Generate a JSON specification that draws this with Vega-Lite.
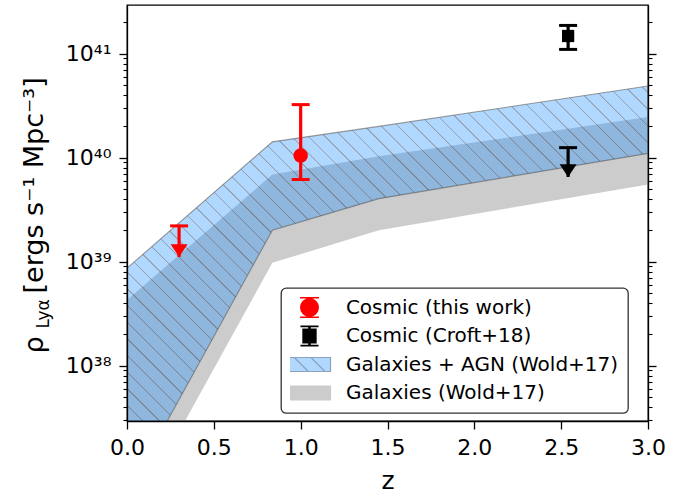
{
  "$schema": "https://vega.github.io/schema/vega-lite/v6.json",
  "width": 521,
  "height": 416,
  "autosize": {"type": "none"},
  "padding": {"left": 127, "top": 5, "right": 40, "bottom": 75},
  "background": "white",
  "datasets": {
    "bands": [
      {"z": 0, "glo": 2.88e36, "ghi": 4.28e38, "blo": 5.83e36, "bhi": 8.67e38},
      {"z": 0.837, "glo": 9.75e38, "ghi": 6.89e39, "blo": 2.01e39, "bhi": 1.42e40},
      {"z": 1.45, "glo": 2.01e39, "ghi": 1.03e40, "blo": 4.04e39, "bhi": 2.0e40},
      {"z": 3, "glo": 5.52e39, "ghi": 2.46e40, "blo": 1.10e40, "bhi": 4.89e40}
    ],
    "points": [
      {"series": "Cosmic (this work)", "z": 1.0, "rho": 1.05e40, "lo": 6.17e39, "hi": 3.24e40},
      {"series": "Cosmic (Croft+18)", "z": 2.54, "rho": 1.48e41, "lo": 1.1e41, "hi": 1.87e41}
    ],
    "limits": [
      {"series": "Cosmic (this work)", "z": 0.3, "cap": 2.21e39, "tip": 1.11e39},
      {"series": "Cosmic (Croft+18)", "z": 2.54, "cap": 1.25e40, "tip": 6.53e39}
    ],
    "legend": [
      {"series": "Cosmic (this work)"},
      {"series": "Cosmic (Croft+18)"},
      {"series": "Galaxies + AGN (Wold+17)"},
      {"series": "Galaxies (Wold+17)"}
    ]
  },
  "layer": [
    {
      "data": {"name": "bands"},
      "mark": {"type": "area", "fill": "rgba(128,128,128,0.4)", "clip": true, "strokeWidth": 0},
      "encoding": {
        "x": {"field": "z", "type": "quantitative", "scale": {"domain": [0, 3], "nice": false, "zero": false},
          "axis": {"orient": "bottom", "values": [0, 0.5, 1, 1.5, 2, 2.5, 3], "format": ".1f", "tickSize": 8, "tickWidth": 1.3, "tickColor": "black", "labelFontSize": 22, "labelPadding": 8, "labelFlush": false, "labelOverlap": false, "domain": true, "domainColor": "black", "domainWidth": 1.3, "grid": false, "zindex": 1, "title": "z", "titleFontSize": 25, "titleFontWeight": "normal", "titleX": 260.5, "titleY": 67, "titleBaseline": "alphabetic", "titleAlign": "center"}},
        "y": {"field": "glo", "type": "quantitative", "scale": {"type": "log", "domain": [2.94e37, 2.94e41], "nice": false},
          "axis": {"orient": "left", "values": [1e38, 1e39, 1e40, 1e41], "tickSize": 8, "tickWidth": 1.3, "tickColor": "black", "labelFontSize": 22, "labelPadding": 8, "labelOverlap": false, "labelFlush": false, "labelExpr": "'10' + (datum.value == 1e38 ? '³⁸' : datum.value == 1e39 ? '³⁹' : datum.value == 1e40 ? '⁴⁰' : '⁴¹')", "domain": true, "domainColor": "black", "domainWidth": 1.3, "grid": false, "zindex": 1, "title": "[ergs s⁻¹ Mpc⁻³]", "titleFontSize": 27, "titleFontWeight": "normal", "titleX": -84.5, "titleY": 288, "titleAngle": 270, "titleAlign": "left", "titleBaseline": "alphabetic"}},
        "y2": {"field": "ghi"}
      }
    },
    {
      "data": {"name": "bands"},
      "mark": {"type": "area", "clip": true, "stroke": "rgba(90,90,90,0.6)", "strokeWidth": 1.1,
        "fill": {"gradient": "linear", "x1": 0, "y1": 1, "x2": 1.1052, "y2": 0.1345, "stops": [
          {"offset": 0, "color": "rgba(30,144,255,0.35)"},
          {"offset": 0.0050, "color": "rgba(30,144,255,0.35)"}, {"offset": 0.0055, "color": "rgba(45,65,95,0.5)"}, {"offset": 0.0065, "color": "rgba(45,65,95,0.5)"}, {"offset": 0.0070, "color": "rgba(30,144,255,0.35)"},
          {"offset": 0.0229, "color": "rgba(30,144,255,0.35)"}, {"offset": 0.0234, "color": "rgba(45,65,95,0.5)"}, {"offset": 0.0244, "color": "rgba(45,65,95,0.5)"}, {"offset": 0.0249, "color": "rgba(30,144,255,0.35)"},
          {"offset": 0.0409, "color": "rgba(30,144,255,0.35)"}, {"offset": 0.0414, "color": "rgba(45,65,95,0.5)"}, {"offset": 0.0424, "color": "rgba(45,65,95,0.5)"}, {"offset": 0.0429, "color": "rgba(30,144,255,0.35)"},
          {"offset": 0.0588, "color": "rgba(30,144,255,0.35)"}, {"offset": 0.0593, "color": "rgba(45,65,95,0.5)"}, {"offset": 0.0603, "color": "rgba(45,65,95,0.5)"}, {"offset": 0.0608, "color": "rgba(30,144,255,0.35)"},
          {"offset": 0.0768, "color": "rgba(30,144,255,0.35)"}, {"offset": 0.0773, "color": "rgba(45,65,95,0.5)"}, {"offset": 0.0783, "color": "rgba(45,65,95,0.5)"}, {"offset": 0.0788, "color": "rgba(30,144,255,0.35)"},
          {"offset": 0.0947, "color": "rgba(30,144,255,0.35)"}, {"offset": 0.0952, "color": "rgba(45,65,95,0.5)"}, {"offset": 0.0962, "color": "rgba(45,65,95,0.5)"}, {"offset": 0.0967, "color": "rgba(30,144,255,0.35)"},
          {"offset": 0.1127, "color": "rgba(30,144,255,0.35)"}, {"offset": 0.1132, "color": "rgba(45,65,95,0.5)"}, {"offset": 0.1142, "color": "rgba(45,65,95,0.5)"}, {"offset": 0.1147, "color": "rgba(30,144,255,0.35)"},
          {"offset": 0.1306, "color": "rgba(30,144,255,0.35)"}, {"offset": 0.1311, "color": "rgba(45,65,95,0.5)"}, {"offset": 0.1321, "color": "rgba(45,65,95,0.5)"}, {"offset": 0.1326, "color": "rgba(30,144,255,0.35)"},
          {"offset": 0.1485, "color": "rgba(30,144,255,0.35)"}, {"offset": 0.1490, "color": "rgba(45,65,95,0.5)"}, {"offset": 0.1500, "color": "rgba(45,65,95,0.5)"}, {"offset": 0.1505, "color": "rgba(30,144,255,0.35)"},
          {"offset": 0.1665, "color": "rgba(30,144,255,0.35)"}, {"offset": 0.1670, "color": "rgba(45,65,95,0.5)"}, {"offset": 0.1680, "color": "rgba(45,65,95,0.5)"}, {"offset": 0.1685, "color": "rgba(30,144,255,0.35)"},
          {"offset": 0.1844, "color": "rgba(30,144,255,0.35)"}, {"offset": 0.1849, "color": "rgba(45,65,95,0.5)"}, {"offset": 0.1859, "color": "rgba(45,65,95,0.5)"}, {"offset": 0.1864, "color": "rgba(30,144,255,0.35)"},
          {"offset": 0.2024, "color": "rgba(30,144,255,0.35)"}, {"offset": 0.2029, "color": "rgba(45,65,95,0.5)"}, {"offset": 0.2039, "color": "rgba(45,65,95,0.5)"}, {"offset": 0.2044, "color": "rgba(30,144,255,0.35)"},
          {"offset": 0.2203, "color": "rgba(30,144,255,0.35)"}, {"offset": 0.2208, "color": "rgba(45,65,95,0.5)"}, {"offset": 0.2218, "color": "rgba(45,65,95,0.5)"}, {"offset": 0.2223, "color": "rgba(30,144,255,0.35)"},
          {"offset": 0.2383, "color": "rgba(30,144,255,0.35)"}, {"offset": 0.2388, "color": "rgba(45,65,95,0.5)"}, {"offset": 0.2398, "color": "rgba(45,65,95,0.5)"}, {"offset": 0.2403, "color": "rgba(30,144,255,0.35)"},
          {"offset": 0.2562, "color": "rgba(30,144,255,0.35)"}, {"offset": 0.2567, "color": "rgba(45,65,95,0.5)"}, {"offset": 0.2577, "color": "rgba(45,65,95,0.5)"}, {"offset": 0.2582, "color": "rgba(30,144,255,0.35)"},
          {"offset": 0.2741, "color": "rgba(30,144,255,0.35)"}, {"offset": 0.2746, "color": "rgba(45,65,95,0.5)"}, {"offset": 0.2756, "color": "rgba(45,65,95,0.5)"}, {"offset": 0.2761, "color": "rgba(30,144,255,0.35)"},
          {"offset": 0.2921, "color": "rgba(30,144,255,0.35)"}, {"offset": 0.2926, "color": "rgba(45,65,95,0.5)"}, {"offset": 0.2936, "color": "rgba(45,65,95,0.5)"}, {"offset": 0.2941, "color": "rgba(30,144,255,0.35)"},
          {"offset": 0.3100, "color": "rgba(30,144,255,0.35)"}, {"offset": 0.3105, "color": "rgba(45,65,95,0.5)"}, {"offset": 0.3115, "color": "rgba(45,65,95,0.5)"}, {"offset": 0.3120, "color": "rgba(30,144,255,0.35)"},
          {"offset": 0.3280, "color": "rgba(30,144,255,0.35)"}, {"offset": 0.3285, "color": "rgba(45,65,95,0.5)"}, {"offset": 0.3295, "color": "rgba(45,65,95,0.5)"}, {"offset": 0.3300, "color": "rgba(30,144,255,0.35)"},
          {"offset": 0.3459, "color": "rgba(30,144,255,0.35)"}, {"offset": 0.3464, "color": "rgba(45,65,95,0.5)"}, {"offset": 0.3474, "color": "rgba(45,65,95,0.5)"}, {"offset": 0.3479, "color": "rgba(30,144,255,0.35)"},
          {"offset": 0.3639, "color": "rgba(30,144,255,0.35)"}, {"offset": 0.3644, "color": "rgba(45,65,95,0.5)"}, {"offset": 0.3654, "color": "rgba(45,65,95,0.5)"}, {"offset": 0.3659, "color": "rgba(30,144,255,0.35)"},
          {"offset": 0.3818, "color": "rgba(30,144,255,0.35)"}, {"offset": 0.3823, "color": "rgba(45,65,95,0.5)"}, {"offset": 0.3833, "color": "rgba(45,65,95,0.5)"}, {"offset": 0.3838, "color": "rgba(30,144,255,0.35)"},
          {"offset": 0.3997, "color": "rgba(30,144,255,0.35)"}, {"offset": 0.4002, "color": "rgba(45,65,95,0.5)"}, {"offset": 0.4012, "color": "rgba(45,65,95,0.5)"}, {"offset": 0.4017, "color": "rgba(30,144,255,0.35)"},
          {"offset": 0.4177, "color": "rgba(30,144,255,0.35)"}, {"offset": 0.4182, "color": "rgba(45,65,95,0.5)"}, {"offset": 0.4192, "color": "rgba(45,65,95,0.5)"}, {"offset": 0.4197, "color": "rgba(30,144,255,0.35)"},
          {"offset": 0.4356, "color": "rgba(30,144,255,0.35)"}, {"offset": 0.4361, "color": "rgba(45,65,95,0.5)"}, {"offset": 0.4371, "color": "rgba(45,65,95,0.5)"}, {"offset": 0.4376, "color": "rgba(30,144,255,0.35)"},
          {"offset": 0.4536, "color": "rgba(30,144,255,0.35)"}, {"offset": 0.4541, "color": "rgba(45,65,95,0.5)"}, {"offset": 0.4551, "color": "rgba(45,65,95,0.5)"}, {"offset": 0.4556, "color": "rgba(30,144,255,0.35)"},
          {"offset": 0.4715, "color": "rgba(30,144,255,0.35)"}, {"offset": 0.4720, "color": "rgba(45,65,95,0.5)"}, {"offset": 0.4730, "color": "rgba(45,65,95,0.5)"}, {"offset": 0.4735, "color": "rgba(30,144,255,0.35)"},
          {"offset": 0.4895, "color": "rgba(30,144,255,0.35)"}, {"offset": 0.4900, "color": "rgba(45,65,95,0.5)"}, {"offset": 0.4910, "color": "rgba(45,65,95,0.5)"}, {"offset": 0.4915, "color": "rgba(30,144,255,0.35)"},
          {"offset": 0.5074, "color": "rgba(30,144,255,0.35)"}, {"offset": 0.5079, "color": "rgba(45,65,95,0.5)"}, {"offset": 0.5089, "color": "rgba(45,65,95,0.5)"}, {"offset": 0.5094, "color": "rgba(30,144,255,0.35)"},
          {"offset": 0.5253, "color": "rgba(30,144,255,0.35)"}, {"offset": 0.5258, "color": "rgba(45,65,95,0.5)"}, {"offset": 0.5268, "color": "rgba(45,65,95,0.5)"}, {"offset": 0.5273, "color": "rgba(30,144,255,0.35)"},
          {"offset": 0.5433, "color": "rgba(30,144,255,0.35)"}, {"offset": 0.5438, "color": "rgba(45,65,95,0.5)"}, {"offset": 0.5448, "color": "rgba(45,65,95,0.5)"}, {"offset": 0.5453, "color": "rgba(30,144,255,0.35)"},
          {"offset": 0.5612, "color": "rgba(30,144,255,0.35)"}, {"offset": 0.5617, "color": "rgba(45,65,95,0.5)"}, {"offset": 0.5627, "color": "rgba(45,65,95,0.5)"}, {"offset": 0.5632, "color": "rgba(30,144,255,0.35)"},
          {"offset": 0.5792, "color": "rgba(30,144,255,0.35)"}, {"offset": 0.5797, "color": "rgba(45,65,95,0.5)"}, {"offset": 0.5807, "color": "rgba(45,65,95,0.5)"}, {"offset": 0.5812, "color": "rgba(30,144,255,0.35)"},
          {"offset": 0.5971, "color": "rgba(30,144,255,0.35)"}, {"offset": 0.5976, "color": "rgba(45,65,95,0.5)"}, {"offset": 0.5986, "color": "rgba(45,65,95,0.5)"}, {"offset": 0.5991, "color": "rgba(30,144,255,0.35)"},
          {"offset": 0.6151, "color": "rgba(30,144,255,0.35)"}, {"offset": 0.6156, "color": "rgba(45,65,95,0.5)"}, {"offset": 0.6166, "color": "rgba(45,65,95,0.5)"}, {"offset": 0.6171, "color": "rgba(30,144,255,0.35)"},
          {"offset": 0.6330, "color": "rgba(30,144,255,0.35)"}, {"offset": 0.6335, "color": "rgba(45,65,95,0.5)"}, {"offset": 0.6345, "color": "rgba(45,65,95,0.5)"}, {"offset": 0.6350, "color": "rgba(30,144,255,0.35)"},
          {"offset": 0.6509, "color": "rgba(30,144,255,0.35)"}, {"offset": 0.6514, "color": "rgba(45,65,95,0.5)"}, {"offset": 0.6524, "color": "rgba(45,65,95,0.5)"}, {"offset": 0.6529, "color": "rgba(30,144,255,0.35)"},
          {"offset": 0.6689, "color": "rgba(30,144,255,0.35)"}, {"offset": 0.6694, "color": "rgba(45,65,95,0.5)"}, {"offset": 0.6704, "color": "rgba(45,65,95,0.5)"}, {"offset": 0.6709, "color": "rgba(30,144,255,0.35)"},
          {"offset": 0.6868, "color": "rgba(30,144,255,0.35)"}, {"offset": 0.6873, "color": "rgba(45,65,95,0.5)"}, {"offset": 0.6883, "color": "rgba(45,65,95,0.5)"}, {"offset": 0.6888, "color": "rgba(30,144,255,0.35)"},
          {"offset": 0.7048, "color": "rgba(30,144,255,0.35)"}, {"offset": 0.7053, "color": "rgba(45,65,95,0.5)"}, {"offset": 0.7063, "color": "rgba(45,65,95,0.5)"}, {"offset": 0.7068, "color": "rgba(30,144,255,0.35)"},
          {"offset": 0.7227, "color": "rgba(30,144,255,0.35)"}, {"offset": 0.7232, "color": "rgba(45,65,95,0.5)"}, {"offset": 0.7242, "color": "rgba(45,65,95,0.5)"}, {"offset": 0.7247, "color": "rgba(30,144,255,0.35)"},
          {"offset": 0.7407, "color": "rgba(30,144,255,0.35)"}, {"offset": 0.7412, "color": "rgba(45,65,95,0.5)"}, {"offset": 0.7422, "color": "rgba(45,65,95,0.5)"}, {"offset": 0.7427, "color": "rgba(30,144,255,0.35)"},
          {"offset": 0.7586, "color": "rgba(30,144,255,0.35)"}, {"offset": 0.7591, "color": "rgba(45,65,95,0.5)"}, {"offset": 0.7601, "color": "rgba(45,65,95,0.5)"}, {"offset": 0.7606, "color": "rgba(30,144,255,0.35)"},
          {"offset": 0.7765, "color": "rgba(30,144,255,0.35)"}, {"offset": 0.7770, "color": "rgba(45,65,95,0.5)"}, {"offset": 0.7780, "color": "rgba(45,65,95,0.5)"}, {"offset": 0.7785, "color": "rgba(30,144,255,0.35)"},
          {"offset": 0.7945, "color": "rgba(30,144,255,0.35)"}, {"offset": 0.7950, "color": "rgba(45,65,95,0.5)"}, {"offset": 0.7960, "color": "rgba(45,65,95,0.5)"}, {"offset": 0.7965, "color": "rgba(30,144,255,0.35)"},
          {"offset": 0.8124, "color": "rgba(30,144,255,0.35)"}, {"offset": 0.8129, "color": "rgba(45,65,95,0.5)"}, {"offset": 0.8139, "color": "rgba(45,65,95,0.5)"}, {"offset": 0.8144, "color": "rgba(30,144,255,0.35)"},
          {"offset": 0.8304, "color": "rgba(30,144,255,0.35)"}, {"offset": 0.8309, "color": "rgba(45,65,95,0.5)"}, {"offset": 0.8319, "color": "rgba(45,65,95,0.5)"}, {"offset": 0.8324, "color": "rgba(30,144,255,0.35)"},
          {"offset": 0.8483, "color": "rgba(30,144,255,0.35)"}, {"offset": 0.8488, "color": "rgba(45,65,95,0.5)"}, {"offset": 0.8498, "color": "rgba(45,65,95,0.5)"}, {"offset": 0.8503, "color": "rgba(30,144,255,0.35)"},
          {"offset": 0.8663, "color": "rgba(30,144,255,0.35)"}, {"offset": 0.8668, "color": "rgba(45,65,95,0.5)"}, {"offset": 0.8678, "color": "rgba(45,65,95,0.5)"}, {"offset": 0.8683, "color": "rgba(30,144,255,0.35)"},
          {"offset": 0.8842, "color": "rgba(30,144,255,0.35)"}, {"offset": 0.8847, "color": "rgba(45,65,95,0.5)"}, {"offset": 0.8857, "color": "rgba(45,65,95,0.5)"}, {"offset": 0.8862, "color": "rgba(30,144,255,0.35)"},
          {"offset": 0.9022, "color": "rgba(30,144,255,0.35)"}, {"offset": 0.9027, "color": "rgba(45,65,95,0.5)"}, {"offset": 0.9037, "color": "rgba(45,65,95,0.5)"}, {"offset": 0.9042, "color": "rgba(30,144,255,0.35)"},
          {"offset": 0.9201, "color": "rgba(30,144,255,0.35)"}, {"offset": 0.9206, "color": "rgba(45,65,95,0.5)"}, {"offset": 0.9216, "color": "rgba(45,65,95,0.5)"}, {"offset": 0.9221, "color": "rgba(30,144,255,0.35)"},
          {"offset": 0.9380, "color": "rgba(30,144,255,0.35)"}, {"offset": 0.9385, "color": "rgba(45,65,95,0.5)"}, {"offset": 0.9395, "color": "rgba(45,65,95,0.5)"}, {"offset": 0.9400, "color": "rgba(30,144,255,0.35)"},
          {"offset": 0.9560, "color": "rgba(30,144,255,0.35)"}, {"offset": 0.9565, "color": "rgba(45,65,95,0.5)"}, {"offset": 0.9575, "color": "rgba(45,65,95,0.5)"}, {"offset": 0.9580, "color": "rgba(30,144,255,0.35)"},
          {"offset": 0.9739, "color": "rgba(30,144,255,0.35)"}, {"offset": 0.9744, "color": "rgba(45,65,95,0.5)"}, {"offset": 0.9754, "color": "rgba(45,65,95,0.5)"}, {"offset": 0.9759, "color": "rgba(30,144,255,0.35)"},
          {"offset": 0.9919, "color": "rgba(30,144,255,0.35)"}, {"offset": 0.9924, "color": "rgba(45,65,95,0.5)"}, {"offset": 0.9934, "color": "rgba(45,65,95,0.5)"}, {"offset": 0.9939, "color": "rgba(30,144,255,0.35)"},
          {"offset": 1, "color": "rgba(30,144,255,0.35)"}
        ]}},
      "encoding": {
        "x": {"field": "z", "type": "quantitative", "scale": {"domain": [0, 3], "nice": false, "zero": false}},
        "y": {"field": "blo", "type": "quantitative", "scale": {"type": "log", "domain": [2.94e37, 2.94e41], "nice": false},
          "axis": {"orient": "right", "values": [1e38, 1e39, 1e40, 1e41], "tickSize": 8, "tickWidth": 1.3, "tickColor": "black", "labels": false, "domain": true, "domainColor": "black", "domainWidth": 1.3, "grid": false, "zindex": 1, "title": null}},
        "y2": {"field": "bhi"}
      }
    },
    {
      "data": {"name": "points"},
      "mark": {"type": "rule", "strokeWidth": 3.2},
      "encoding": {
        "x": {"field": "z", "type": "quantitative", "scale": {"domain": [0, 3], "nice": false, "zero": false}},
        "y": {"field": "lo", "type": "quantitative", "scale": {"type": "log", "domain": [2.94e37, 2.94e41], "nice": false},
          "axis": {"orient": "left", "values": [3e37, 4e37, 5e37, 6e37, 7e37, 8e37, 9e37, 2e38, 3e38, 4e38, 5e38, 6e38, 7e38, 8e38, 9e38, 2e39, 3e39, 4e39, 5e39, 6e39, 7e39, 8e39, 9e39, 2e40, 3e40, 4e40, 5e40, 6e40, 7e40, 8e40, 9e40, 2e41], "tickSize": 4, "tickWidth": 1.1, "tickColor": "black", "labels": false, "domain": false, "grid": false, "zindex": 1, "title": "ρ", "titleFontSize": 27, "titleFontWeight": "normal", "titleX": -84.5, "titleY": 348, "titleAngle": 270, "titleAlign": "left", "titleBaseline": "alphabetic"}},
        "y2": {"field": "hi"},
        "stroke": {"field": "series", "type": "nominal", "scale": {"domain": ["Cosmic (this work)", "Cosmic (Croft+18)", "Galaxies + AGN (Wold+17)", "Galaxies (Wold+17)"], "range": ["#ff0000", "#000000", "#8da2ba", "#cccccc"]}}
      }
    },
    {
      "data": {"name": "points"},
      "transform": [{"fold": ["lo", "hi"], "as": ["end", "val"]}],
      "mark": {"type": "tick", "orient": "horizontal", "size": 18, "thickness": 3, "opacity": 1},
      "encoding": {
        "x": {"field": "z", "type": "quantitative", "scale": {"domain": [0, 3], "nice": false, "zero": false}},
        "y": {"field": "val", "type": "quantitative", "scale": {"type": "log", "domain": [2.94e37, 2.94e41], "nice": false},
          "axis": {"orient": "left", "ticks": false, "labels": false, "domain": false, "grid": false, "title": "Lyα", "titleFontSize": 17, "titleFontWeight": "normal", "titleX": -78.5, "titleY": 323, "titleAngle": 270, "titleAlign": "left", "titleBaseline": "alphabetic"}},
        "fill": {"field": "series", "type": "nominal", "scale": {"domain": ["Cosmic (this work)", "Cosmic (Croft+18)", "Galaxies + AGN (Wold+17)", "Galaxies (Wold+17)"], "range": ["#ff0000", "#000000", "#b0d8ff", "#cccccc"]}}
      }
    },
    {
      "data": {"name": "limits"},
      "mark": {"type": "rule", "strokeWidth": 3.2},
      "encoding": {
        "x": {"field": "z", "type": "quantitative", "scale": {"domain": [0, 3], "nice": false, "zero": false}},
        "y": {"field": "tip", "type": "quantitative", "scale": {"type": "log", "domain": [2.94e37, 2.94e41], "nice": false},
          "axis": {"orient": "right", "values": [3e37, 4e37, 5e37, 6e37, 7e37, 8e37, 9e37, 2e38, 3e38, 4e38, 5e38, 6e38, 7e38, 8e38, 9e38, 2e39, 3e39, 4e39, 5e39, 6e39, 7e39, 8e39, 9e39, 2e40, 3e40, 4e40, 5e40, 6e40, 7e40, 8e40, 9e40, 2e41], "tickSize": 4, "tickWidth": 1.1, "tickColor": "black", "labels": false, "domain": false, "grid": false, "zindex": 1, "title": null}},
        "y2": {"field": "cap"},
        "stroke": {"field": "series", "type": "nominal", "scale": {"domain": ["Cosmic (this work)", "Cosmic (Croft+18)", "Galaxies + AGN (Wold+17)", "Galaxies (Wold+17)"], "range": ["#ff0000", "#000000", "#8da2ba", "#cccccc"]}}
      }
    },
    {
      "data": {"name": "limits"},
      "mark": {"type": "tick", "orient": "horizontal", "size": 18, "thickness": 3, "opacity": 1},
      "encoding": {
        "x": {"field": "z", "type": "quantitative", "scale": {"domain": [0, 3], "nice": false, "zero": false}},
        "y": {"field": "cap", "type": "quantitative", "scale": {"type": "log", "domain": [2.94e37, 2.94e41], "nice": false}, "axis": null},
        "fill": {"field": "series", "type": "nominal", "scale": {"domain": ["Cosmic (this work)", "Cosmic (Croft+18)", "Galaxies + AGN (Wold+17)", "Galaxies (Wold+17)"], "range": ["#ff0000", "#000000", "#b0d8ff", "#cccccc"]}}
      }
    },
    {
      "data": {"name": "limits"},
      "mark": {"type": "point", "shape": "M-1,-1.5L1,-1.5L0,0Z", "size": 289, "filled": true, "opacity": 1, "strokeWidth": 0},
      "encoding": {
        "x": {"field": "z", "type": "quantitative", "scale": {"domain": [0, 3], "nice": false, "zero": false}},
        "y": {"field": "tip", "type": "quantitative", "scale": {"type": "log", "domain": [2.94e37, 2.94e41], "nice": false}, "axis": null},
        "fill": {"field": "series", "type": "nominal", "scale": {"domain": ["Cosmic (this work)", "Cosmic (Croft+18)", "Galaxies + AGN (Wold+17)", "Galaxies (Wold+17)"], "range": ["#ff0000", "#000000", "#b0d8ff", "#cccccc"]}}
      }
    },
    {
      "data": {"name": "points"},
      "transform": [{"filter": "datum.series === 'Cosmic (this work)'"}],
      "mark": {"type": "point", "shape": "circle", "size": 210, "filled": true, "opacity": 1, "strokeWidth": 0},
      "encoding": {
        "x": {"field": "z", "type": "quantitative", "scale": {"domain": [0, 3], "nice": false, "zero": false}},
        "y": {"field": "rho", "type": "quantitative", "scale": {"type": "log", "domain": [2.94e37, 2.94e41], "nice": false}, "axis": null},
        "fill": {"field": "series", "type": "nominal", "scale": {"domain": ["Cosmic (this work)", "Cosmic (Croft+18)", "Galaxies + AGN (Wold+17)", "Galaxies (Wold+17)"], "range": ["#ff0000", "#000000", "#b0d8ff", "#cccccc"]}}
      }
    },
    {
      "data": {"name": "points"},
      "transform": [{"filter": "datum.series === 'Cosmic (Croft+18)'"}],
      "mark": {"type": "point", "shape": "square", "size": 150, "filled": true, "opacity": 1, "strokeWidth": 0},
      "encoding": {
        "x": {"field": "z", "type": "quantitative", "scale": {"domain": [0, 3], "nice": false, "zero": false}},
        "y": {"field": "rho", "type": "quantitative", "scale": {"type": "log", "domain": [2.94e37, 2.94e41], "nice": false}, "axis": null},
        "fill": {"field": "series", "type": "nominal", "scale": {"domain": ["Cosmic (this work)", "Cosmic (Croft+18)", "Galaxies + AGN (Wold+17)", "Galaxies (Wold+17)"], "range": ["#ff0000", "#000000", "#b0d8ff", "#cccccc"]}}
      }
    },
    {
      "data": {"name": "legend"},
      "transform": [{"filter": "false"}],
      "mark": {"type": "point", "filled": true, "opacity": 1},
      "encoding": {
        "fill": {"field": "series", "type": "nominal", "scale": {"domain": ["Cosmic (this work)", "Cosmic (Croft+18)", "Galaxies + AGN (Wold+17)", "Galaxies (Wold+17)"], "range": ["#ff0000", "#000000", "#b0d8ff", "#cccccc"]},
          "legend": {"title": null, "orient": "none", "legendX": 154, "legendY": 283, "padding": 9, "rowPadding": 7.5, "clipHeight": 21, "labelOffset": 26.4, "labelFontSize": 20, "labelFont": "DejaVu Sans", "labelColor": "black", "labelLimit": 500, "strokeColor": "#333333", "fillColor": "white", "cornerRadius": 5, "symbolSize": 1764, "symbolOffset": 9.5, "symbolStrokeWidth": 1, "symbolOpacity": 1, "encode": {"symbols": {"update": {"strokeWidth": {"signal": "datum.value === 'Cosmic (this work)' || datum.value === 'Cosmic (Croft+18)' ? 2.6 : 1.2"}}}}}},
        "stroke": {"field": "series", "type": "nominal", "scale": {"domain": ["Cosmic (this work)", "Cosmic (Croft+18)", "Galaxies + AGN (Wold+17)", "Galaxies (Wold+17)"], "range": ["#ff0000", "#000000", "#8da2ba", "#cccccc"]},
          "legend": {"title": null, "orient": "none", "legendX": 154, "legendY": 283, "padding": 9, "rowPadding": 7.5, "clipHeight": 21, "labelOffset": 26.4, "labelFontSize": 20, "labelFont": "DejaVu Sans", "labelColor": "black", "labelLimit": 500, "strokeColor": "#333333", "fillColor": "white", "cornerRadius": 5, "symbolSize": 1764, "symbolOffset": 9.5, "symbolStrokeWidth": 1, "symbolOpacity": 1, "encode": {"symbols": {"update": {"strokeWidth": {"signal": "datum.value === 'Cosmic (this work)' || datum.value === 'Cosmic (Croft+18)' ? 2.6 : 1.2"}}}}}},
        "shape": {"field": "series", "type": "nominal", "scale": {"domain": ["Cosmic (this work)", "Cosmic (Croft+18)", "Galaxies + AGN (Wold+17)", "Galaxies (Wold+17)"], "range": [
            "M-0.45,-0.49L0.45,-0.49M0,-0.49L0,0.49M-0.45,0.49L0.45,0.49M0.39,0C0.39,0.2154,0.2154,0.39,0,0.39C-0.2154,0.39,-0.39,0.2154,-0.39,0C-0.39,-0.2154,-0.2154,-0.39,0,-0.39C0.2154,-0.39,0.39,-0.2154,0.39,0Z",
            "M-0.43,-0.48L0.43,-0.48M0,-0.48L0,0.48M-0.43,0.48L0.43,0.48M-0.28,-0.29L0.28,-0.29L0.28,0.29L-0.28,0.29Z",
            "M-1,-0.333L1,-0.333L1,0.333L-1,0.333ZM-0.72,-0.333L-0.053,0.333M0.07,-0.333L0.737,0.333",
            "M-1,-0.333L1,-0.333L1,0.333L-1,0.333Z"]},
          "legend": {"title": null, "orient": "none", "legendX": 154, "legendY": 283, "padding": 9, "rowPadding": 7.5, "clipHeight": 21, "labelOffset": 26.4, "labelFontSize": 20, "labelFont": "DejaVu Sans", "labelColor": "black", "labelLimit": 500, "strokeColor": "#333333", "fillColor": "white", "cornerRadius": 5, "symbolSize": 1764, "symbolOffset": 9.5, "symbolStrokeWidth": 1, "symbolOpacity": 1, "encode": {"symbols": {"update": {"strokeWidth": {"signal": "datum.value === 'Cosmic (this work)' || datum.value === 'Cosmic (Croft+18)' ? 2.6 : 1.2"}}}}}}
      }
    }
  ],
  "resolve": {"axis": {"y": "independent"}},
  "config": {
    "font": "DejaVu Sans",
    "view": {"stroke": "black", "strokeWidth": 1.3},
    "axis": {"labelFont": "DejaVu Sans", "titleFont": "DejaVu Sans", "labelColor": "black", "titleColor": "black"},
    "legend": {"strokeWidth": 1.3}
  }
}
